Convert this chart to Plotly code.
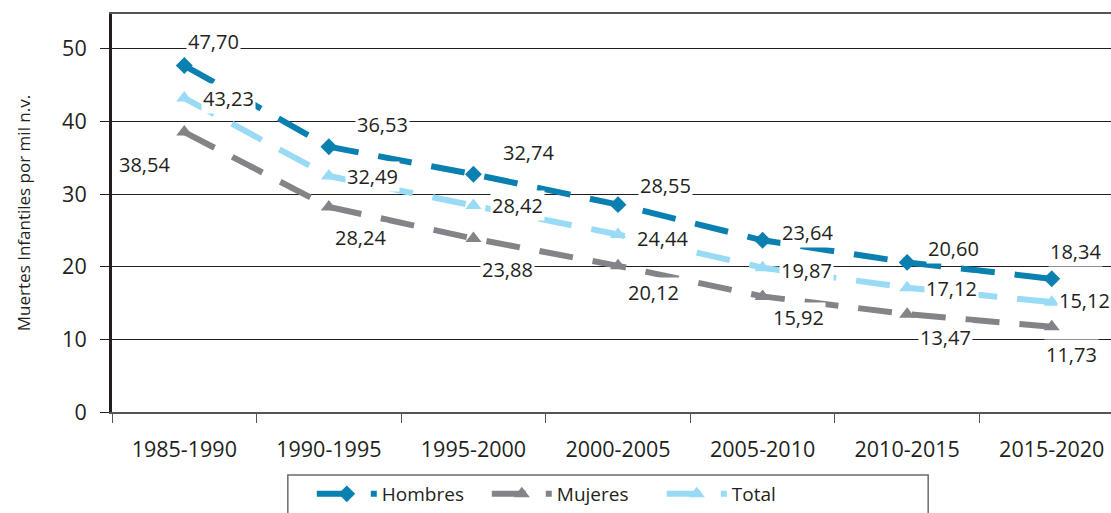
import plotly.graph_objects as go

categories = ["1985-1990", "1990-1995", "1995-2000", "2000-2005", "2005-2010", "2010-2015", "2015-2020"]
hombres = [47.70, 36.53, 32.74, 28.55, 23.64, 20.60, 18.34]
mujeres = [38.54, 28.24, 23.88, 20.12, 15.92, 13.47, 11.73]
total = [43.23, 32.49, 28.42, 24.44, 19.87, 17.12, 15.12]

# label offsets (pixels) relative to each point
off_h = [(29, 24), (54, 22), (55, 22), (47, 19), (45, 8), (46, 14), (24, 27)]
off_t = [(44, 0), (44, 0), (44, 0), (44, -4), (44, -3), (44, -1), (33, 2)]
off_m = [(-40, -32), (32, -31), (34, -31), (35, -27), (36, -21), (38, -23), (20, -28)]

FONT = "Open Sans"
series = [
    ("Hombres", hombres, "#0A80B0", "diamond", 13, off_h),
    ("Mujeres", mujeres, "#838487", "triangle-up", 14, off_m),
    ("Total", total, "#99DAF5", "triangle-up", 14, off_t),
]

fig = go.Figure()
annotations = []
for name, vals, color, sym, msize, offs in series:
    fig.add_trace(go.Scatter(
        x=categories, y=vals, name=name, mode="lines+markers",
        line=dict(color=color, width=6, dash="34px,20px"),
        marker=dict(symbol=sym, size=msize, color=color),
    ))
    for c, v, (dx, dy) in zip(categories, vals, offs):
        annotations.append(dict(
            x=c, y=v, xref="x", yref="y", text=f"{v:.2f}".replace(".", ","),
            showarrow=False, xshift=dx, yshift=dy, bgcolor="white",
            font=dict(family=FONT, size=20, color="#231F20"),
        ))

fig.update_layout(
    width=1111, height=513,
    margin=dict(l=112, r=0, t=14, b=100),
    paper_bgcolor="white", plot_bgcolor="white",
    font=dict(family=FONT, color="#231F20"),
    annotations=annotations,
    showlegend=True,
    legend=dict(
        orientation="h", x=0.2, xanchor="left", y=-0.158, yanchor="top",
        borderwidth=0, bgcolor="rgba(0,0,0,0)",
        font=dict(family=FONT, size=19, color="#231F20"),
        itemwidth=60, entrywidth=100, entrywidthmode="pixels",
    ),
    shapes=[dict(
        type="rect", xref="paper", yref="paper",
        x0=0.176, x1=0.817, y0=-0.158, y1=-0.32,
        line=dict(color="#6b6b6b", width=1.5), fillcolor="rgba(0,0,0,0)",
        layer="below",
    )],
)
fig.update_xaxes(
    type="category", range=[-0.5, 6.41],
    showline=True, linecolor="#555555", linewidth=2, mirror=True,
    ticks="outside", tickson="boundaries", ticklen=9, tickcolor="#555555",
    tickfont=dict(family=FONT, size=21.5, color="#231F20"),
    ticklabelstandoff=17, showgrid=False,
)
fig.update_yaxes(
    range=[0, 54.8], tickvals=[0, 10, 20, 30, 40, 50],
    showline=True, linecolor="#231F20", linewidth=3,
    ticks="outside", ticklen=9, tickcolor="#231F20",
    showgrid=True, gridcolor="#231F20", gridwidth=1, zeroline=False,
    tickfont=dict(family=FONT, size=21.5, color="#231F20"),
    ticklabelstandoff=9,
    title=dict(text="Muertes Infantiles por mil n.v.", font=dict(family=FONT, size=17, color="#231F20"), standoff=28),
)

fig.write_html(
    "out.html",
    config={"displayModeBar": False},
    post_script="document.body.style.margin='0';document.body.style.overflow='hidden';",
)
